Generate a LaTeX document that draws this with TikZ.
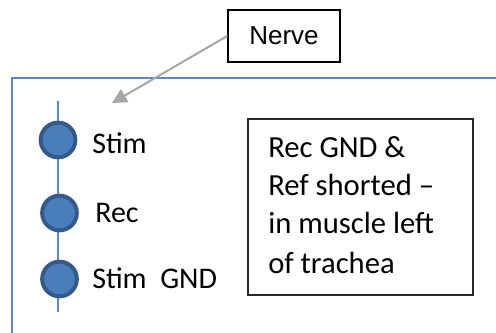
\documentclass[tikz,border=0pt]{standalone}
\usepackage{fontspec}
\setmainfont{Carlito}
\newfontfamily\arialf{Liberation Sans}
\usetikzlibrary{arrows.meta}
\definecolor{frameblue}{HTML}{5B88C8}
\definecolor{dotfill}{HTML}{4A7EBB}
\definecolor{dotedge}{HTML}{34598C}
\definecolor{arrowgray}{HTML}{A6A6A6}
\tikzset{
  dot/.style={circle, fill=dotfill, draw=dotedge, line width=3pt, minimum size=26pt, inner sep=0pt},
  lbl/.style={anchor=base west, inner sep=0pt, font=\fontsize{22.5}{27}\selectfont, text=black},
  boxline/.style={anchor=base west, inner sep=0pt, font=\fontsize{23}{28}\selectfont, text=black},
  plainbox/.style={draw=black!85, line width=1.6pt, inner sep=0pt, anchor=north west}
}
\begin{document}
\begin{tikzpicture}[x=0.75pt,y=-0.75pt]
\useasboundingbox (0,0) rectangle (496,332);
% blue frame
\coordinate (fb) at (12,340);
\coordinate (fc) at (12,78);
\coordinate (fr) at (500,78);
\draw[frameblue, line width=1.4pt] (fb) -- (fc) -- (fr);
% Nerve label
\node[draw=black, line width=1.1pt, minimum width=84pt, minimum height=39pt, inner sep=0pt] (nerve) at (284,36) {\arialf\fontsize{19.5}{23}\selectfont Nerve};
\coordinate (tip) at (112,103);
\draw[arrowgray, line width=1.5pt, -{Triangle[length=11pt,width=11pt]}] (nerve.west) -- (tip);
% electrode line
\coordinate (ltop) at (58,101);
\coordinate (lbot) at (58,312);
\draw[frameblue, line width=1.4pt] (ltop) -- (lbot);
\node[dot] (d1) at (58,140) {};
\node[dot] (d2) at (59.5,213) {};
\node[dot] (d3) at (59.5,279) {};
\node[lbl] (t1) at (92,153) {Stim};
\node[lbl] (t2) at (95,222) {Rec};
\node[lbl] (t3) at (92,288) {Stim\ \ GND};
% note box
\node[plainbox, minimum width=168.75pt, minimum height=132pt] (note) at (247,117.5) {};
\node[boxline] (n1) at (268,157) {Rec GND \&};
\node[boxline] (n2) at (268,195) {Ref shorted –};
\node[boxline] (n3) at (268,233) {in muscle left};
\node[boxline] (n4) at (268,273) {of trachea};
\end{tikzpicture}
\end{document}
